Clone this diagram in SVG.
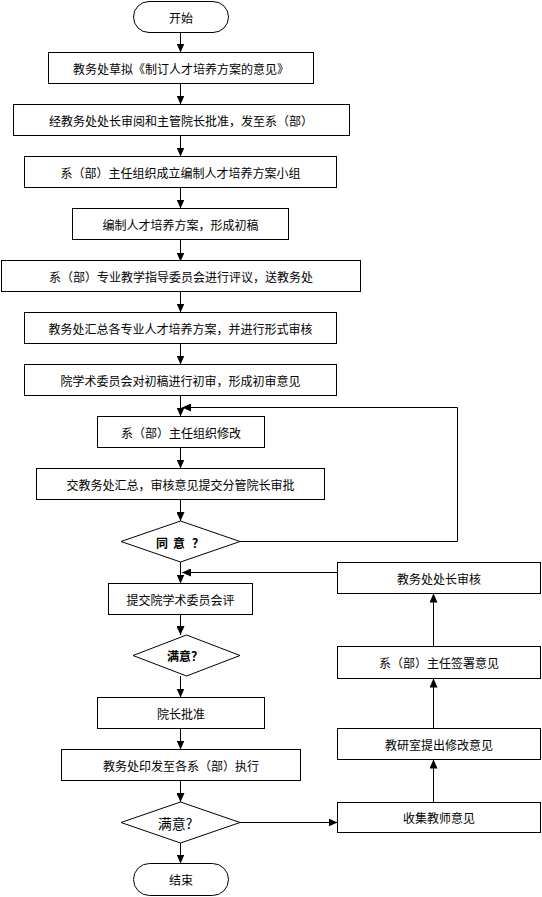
<svg xmlns="http://www.w3.org/2000/svg" width="542" height="897" viewBox="0 0 542 897">
<style>
.n{fill:#fff;stroke:#000;stroke-width:1}
.t{font-family:"Noto Sans CJK SC","Liberation Sans",sans-serif;font-size:12px;fill:#000;text-anchor:middle;dominant-baseline:central}
.b{font-weight:bold}
.c{fill:none;stroke:#000;stroke-width:1}
</style>
<defs>
<marker id="ah" markerUnits="userSpaceOnUse" markerWidth="9" markerHeight="8" refX="9" refY="4" orient="auto">
<path d="M0,0 L9,4 L0,8 z" fill="#000"/>
</marker>
</defs>
<rect width="542" height="897" fill="#fff"/>
<g id="connectors">
<path class="c" marker-end="url(#ah)" d="M180.5,32.5 V52.5"/>
<path class="c" marker-end="url(#ah)" d="M180.5,83.5 V104.5"/>
<path class="c" marker-end="url(#ah)" d="M180.5,135.5 V156.5"/>
<path class="c" marker-end="url(#ah)" d="M180.5,187.5 V208.5"/>
<path class="c" marker-end="url(#ah)" d="M180.5,239.5 V261.5"/>
<path class="c" marker-end="url(#ah)" d="M180.5,291.5 V312.5"/>
<path class="c" marker-end="url(#ah)" d="M180.5,343.5 V364.5"/>
<path class="c" marker-end="url(#ah)" d="M180.5,395.5 V416.5"/>
<path class="c" marker-end="url(#ah)" d="M180.5,447.5 V468.5"/>
<path class="c" marker-end="url(#ah)" d="M180.5,499.5 V521"/>
<path class="c" marker-end="url(#ah)" d="M180.5,562 V583.5"/>
<path class="c" marker-end="url(#ah)" d="M180.5,614.5 V635"/>
<path class="c" marker-end="url(#ah)" d="M180.5,676 V697.5"/>
<path class="c" marker-end="url(#ah)" d="M180.5,728.5 V749.5"/>
<path class="c" marker-end="url(#ah)" d="M180.5,780.5 V802"/>
<path class="c" marker-end="url(#ah)" d="M180.5,843 V863.5"/>
<path class="c" marker-end="url(#ah)" d="M240,541.5 H457.5 V407.5 H182"/>
<path class="c" marker-end="url(#ah)" d="M337.5,572.5 H182"/>
<path class="c" marker-end="url(#ah)" d="M240,822.5 H337.5"/>
<path class="c" marker-end="url(#ah)" d="M433.5,802.5 V759.5"/>
<path class="c" marker-end="url(#ah)" d="M433.5,728.5 V678.5"/>
<path class="c" marker-end="url(#ah)" d="M433.5,646.5 V593.5"/>
</g>
<g id="start"><rect class="n" x="133.5" y="1.5" width="95" height="31" rx="15.5"/><text class="t" x="181" y="17">开始</text></g>
<g id="n1"><rect class="n" x="48.5" y="52.5" width="265" height="31"/><text class="t" x="181" y="68">教务处草拟《制订人才培养方案的意见》</text></g>
<g id="n2"><rect class="n" x="13.5" y="104.5" width="336" height="31"/><text class="t" x="181" y="120">经教务处处长审阅和主管院长批准，发至系（部）</text></g>
<g id="n3"><rect class="n" x="24.5" y="156.5" width="312" height="31"/><text class="t" x="180.5" y="172">系（部）主任组织成立编制人才培养方案小组</text></g>
<g id="n4"><rect class="n" x="72.5" y="208.5" width="216" height="31"/><text class="t" x="180.5" y="224">编制人才培养方案，形成初稿</text></g>
<g id="n5"><rect class="n" x="1.5" y="260.5" width="359" height="31"/><text class="t" x="181" y="276">系（部）专业教学指导委员会进行评议，送教务处</text></g>
<g id="n6"><rect class="n" x="24.5" y="312.5" width="312" height="31"/><text class="t" x="180.5" y="328">教务处汇总各专业人才培养方案，并进行形式审核</text></g>
<g id="n7"><rect class="n" x="24.5" y="364.5" width="312" height="31"/><text class="t" x="180.5" y="380">院学术委员会对初稿进行初审，形成初审意见</text></g>
<g id="n8"><rect class="n" x="97.5" y="416.5" width="167" height="31"/><text class="t" x="181" y="432">系（部）主任组织修改</text></g>
<g id="n9"><rect class="n" x="36.5" y="468.5" width="288" height="31"/><text class="t" x="180.5" y="484">交教务处汇总，审核意见提交分管院长审批</text></g>
<g id="d1"><polygon class="n" points="180.5,521 240,541.5 180.5,562 121,541.5"/><text class="t b" y="541.5"><tspan x="162">同</tspan><tspan x="179">意</tspan><tspan x="198">？</tspan></text></g>
<g id="n10"><rect class="n" x="108.5" y="583.5" width="144" height="31"/><text class="t" x="180.5" y="599">提交院学术委员会评</text></g>
<g id="d2"><polygon class="n" points="186.5,635 240,655.5 186.5,676 133,655.5"/><text class="t b" x="185" y="655.5">满意？</text></g>
<g id="n11"><rect class="n" x="97.5" y="697.5" width="167" height="31"/><text class="t" x="181" y="713">院长批准</text></g>
<g id="n12"><rect class="n" x="61.5" y="749.5" width="239" height="31"/><text class="t" x="181" y="765">教务处印发至各系（部）执行</text></g>
<g id="d3"><polygon class="n" points="180.5,802 240,822.5 180.5,843 121,822.5"/><text class="t" style="font-size:14px" x="175" y="822.5">满意?</text></g>
<g id="end"><rect class="n" x="133.5" y="863.5" width="95" height="32" rx="16"/><text class="t" x="181" y="879.5">结束</text></g>
<g id="r1"><rect class="n" x="337.5" y="562.5" width="203" height="31"/><text class="t" x="439" y="578">教务处处长审核</text></g>
<g id="r2"><rect class="n" x="337.5" y="646.5" width="203" height="32"/><text class="t" x="439" y="662.5">系（部）主任签署意见</text></g>
<g id="r3"><rect class="n" x="337.5" y="728.5" width="203" height="31"/><text class="t" x="439" y="744">教研室提出修改意见</text></g>
<g id="r4"><rect class="n" x="337.5" y="802.5" width="203" height="30"/><text class="t" x="439" y="817.5">收集教师意见</text></g>
</svg>
